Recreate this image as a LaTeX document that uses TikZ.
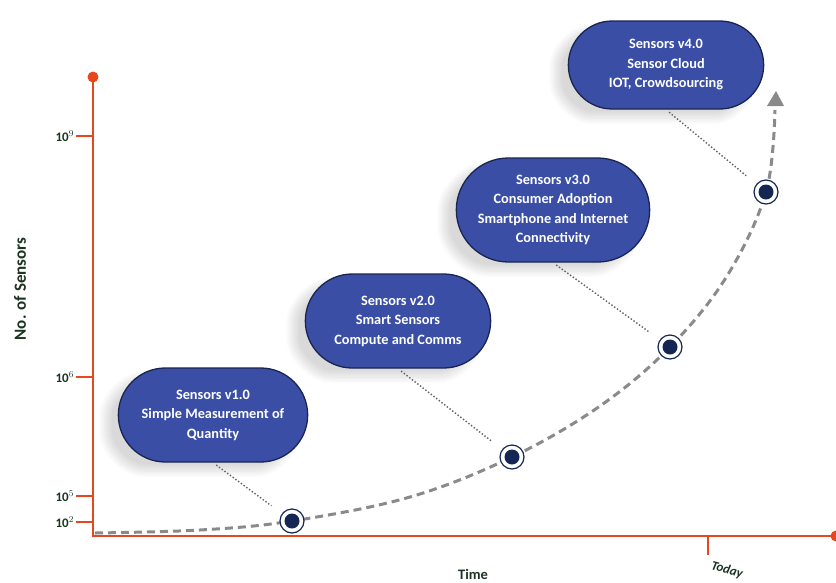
\documentclass[tikz,border=0pt]{standalone}
\usepackage{fontspec}
\setmainfont{Carlito}
\usetikzlibrary{shapes.misc,shadows.blur,arrows.meta,calc}
\definecolor{axisor}{HTML}{E8461B}
\definecolor{boxfill}{HTML}{3A4EA6}
\definecolor{boxline}{HTML}{1A2450}
\definecolor{navy}{HTML}{132654}
\definecolor{lbl}{HTML}{1C3322}
\definecolor{curvegray}{HTML}{8A8A8A}
\tikzset{
  stage/.style={rounded rectangle, draw=boxline, line width=1.3pt, fill=boxfill,
    minimum width=196pt, minimum height=94pt, text=white, align=center,
    font=\bfseries\fontsize{14.3}{19.5}\selectfont,
    blur shadow={shadow xshift=-13pt, shadow yshift=-9pt, shadow opacity=15, shadow blur steps=16, shadow blur radius=7pt, shadow blur extra rounding=8pt}},
  marker/.style={circle, draw=navy, line width=1.2pt, fill=white, minimum size=24pt, inner sep=0pt,
    path picture={\fill[navy] (path picture bounding box.center) circle (7.5pt);}},
  leader/.style={dotted, line width=1.4pt, draw=gray!75!black, shorten <=4pt, shorten >=13pt},
  axis/.style={draw=axisor, line width=2.6pt},
  ticklbl/.style={text=lbl, font=\bfseries\fontsize{13}{14}\selectfont, anchor=east, inner sep=1pt},
  growth/.style={draw=curvegray, line width=3pt, dash pattern=on 8pt off 5pt}
}
\begin{document}
\begin{tikzpicture}[x=1pt,y=-1pt]
\useasboundingbox (0,0) rectangle (836,582);
% axes
\coordinate (o) at (93,536);
\coordinate (ytop) at (93,77);
\coordinate (xend) at (836,536);
\draw[axis] (ytop) -- (o) -- (xend);
\fill[axisor] (ytop) circle (5.5pt);
\fill[axisor] (xend) circle (5.5pt);
% ticks
\foreach \y/\t/\n in {136/9/t9, 377/6/t6, 496/5/t5, 522/2/t2}{
  \coordinate (\n) at (93,\y);
  \draw[axis, line width=2.2pt] (\n) -- ++(-17,0) node[ticklbl] {10$^{\t}$};
}
\coordinate (today) at (708,536);
\draw[axis, line width=2.2pt] (today) -- ++(0,19);
\node[text=lbl, font=\bfseries\itshape\fontsize{13}{14}\selectfont, rotate=-15] (todaylbl) at (727,570) {Today};
\node[text=lbl, font=\bfseries\fontsize{14.5}{16}\selectfont] (timelbl) at (473,574) {Time};
\node[text=lbl, font=\bfseries\fontsize{17}{18}\selectfont, rotate=90] (ylbl) at (20,289) {No. of Sensors};
% boxes
\node[stage] (b1) at (213,415) {Sensors v1.0\\Simple Measurement of\\Quantity};
\node[stage, minimum width=192pt] (b2) at (398,321) {Sensors v2.0\\Smart Sensors\\Compute and Comms};
\node[stage, minimum width=200pt, minimum height=104pt] (b3) at (553,210) {Sensors v3.0\\Consumer Adoption\\Smartphone and Internet\\Connectivity};
\node[stage, minimum width=202pt, minimum height=88pt] (b4) at (666,65) {Sensors v4.0\\Sensor Cloud\\IOT, Crowdsourcing};
% growth curve
\coordinate (c0) at (95,533);
\coordinate (m1p) at (292,521);
\coordinate (m2p) at (512,457);
\coordinate (m3p) at (670,347);
\coordinate (m4p) at (766,192);
\coordinate (tip) at (776,91);
\draw[growth] plot[smooth, tension=0.6] coordinates {(c0) (200,530) (m1p) (410,497) (m2p) (600,406) (m3p) (727,276) (m4p) (775,110)};
\fill[curvegray] (tip) -- (767,106) -- (784,106) -- cycle;
% markers
\node[marker] (m1) at (m1p) {};
\node[marker] (m2) at (m2p) {};
\node[marker] (m3) at (m3p) {};
\node[marker] (m4) at (m4p) {};
% leaders
\draw[leader] (b1.south) -- (m1);
\draw[leader] (b2.south) -- (m2);
\draw[leader] (b3.south) -- (m3);
\draw[leader] (b4.south) -- (m4);
\end{tikzpicture}
\end{document}
